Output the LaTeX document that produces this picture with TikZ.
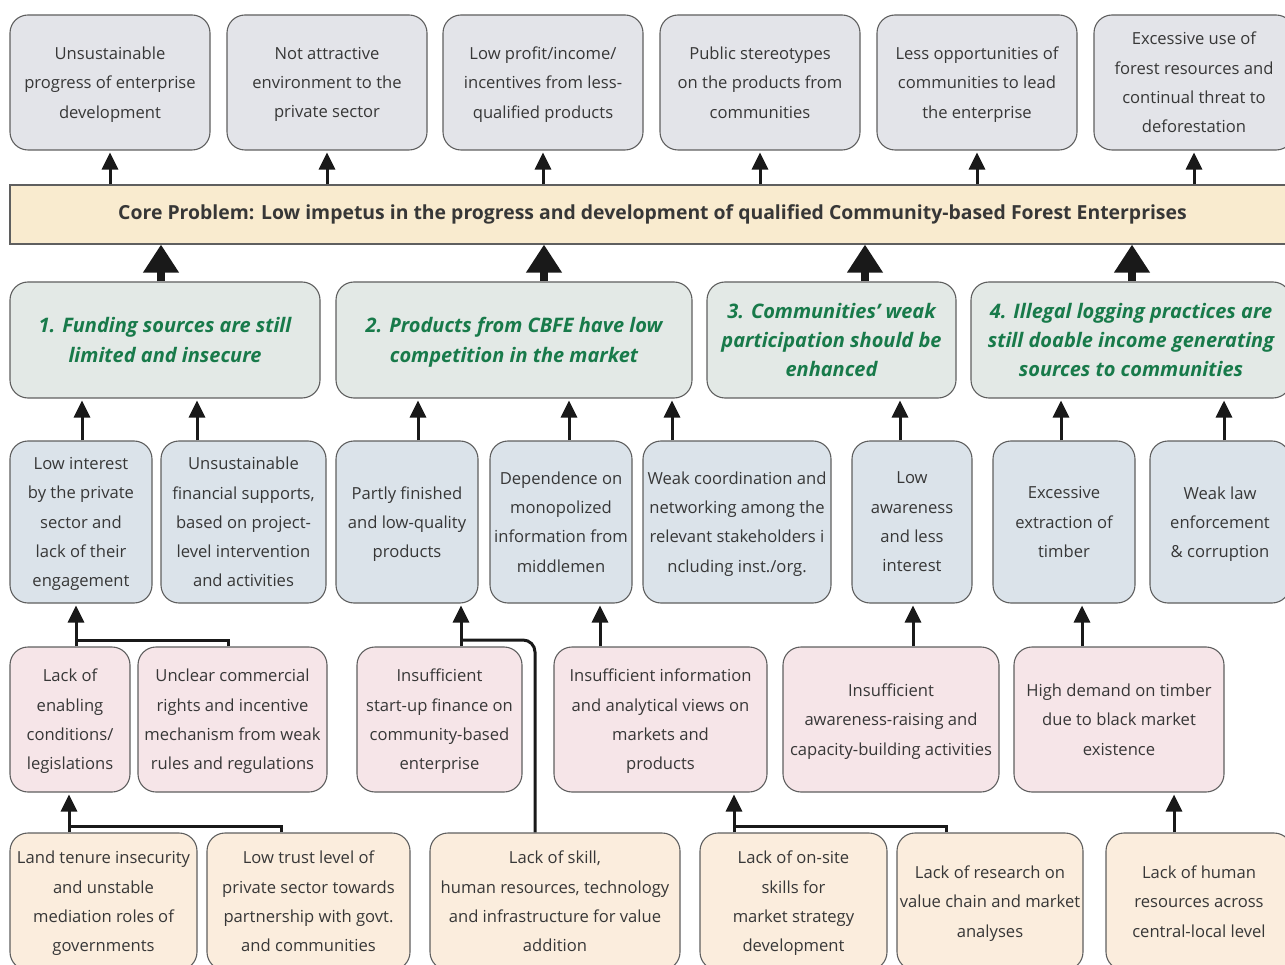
\documentclass[tikz,border=0pt]{standalone}
\usepackage{fontspec}
\setmainfont{Open Sans}
\usetikzlibrary{arrows.meta,calc}
\definecolor{bordc}{RGB}{95,95,95}
\definecolor{txt}{RGB}{55,55,55}
\definecolor{grayf}{RGB}{227,228,233}
\definecolor{coref}{RGB}{249,235,207}
\definecolor{greenf}{RGB}{227,233,230}
\definecolor{greent}{RGB}{24,122,74}
\definecolor{bluef}{RGB}{219,227,234}
\definecolor{pinkf}{RGB}{246,229,232}
\definecolor{beigef}{RGB}{251,237,221}
\definecolor{arrc}{RGB}{25,25,25}
\tikzset{
  box/.style={draw=bordc, line width=1.1pt, rounded corners=18pt, align=center, text=txt,
    font=\fontsize{16.6}{29.3}\selectfont, inner sep=0pt, text depth=0pt},
  bw/.style 2 args={minimum width=#1, minimum height=#2},
  topbox/.style={box, fill=grayf},
  lvtwo/.style={box, fill=greenf, text=greent, font=\fontsize{20}{29.3}\selectfont\bfseries\itshape},
  lvthree/.style={box, fill=bluef},
  lvfour/.style={box, fill=pinkf},
  lvfive/.style={box, fill=beigef},
  arr/.style={line width=3pt, draw=arrc, -{Triangle[width=16pt,length=17pt]}, shorten >=2pt},
  bigarr/.style={line width=7.5pt, draw=arrc, -{Triangle[width=34pt,length=28pt]}},
  link/.style={line width=3pt, draw=arrc},
}
\begin{document}
\begin{tikzpicture}[x=1pt,y=-1pt]
\useasboundingbox (0,0) rectangle (1285,965);
% top row
\node[topbox, bw={200}{135}] (t1) at (110,82.5) {Unsustainable\\progress of enterprise\\development};
\node[topbox, bw={200}{135}] (t2) at (327,82.5) {Not attractive\\environment to the\\private sector};
\node[topbox, bw={200}{135}] (t3) at (543,82.5) {Low profit/income/\\incentives from less-\\qualified products};
\node[topbox, bw={200}{135}] (t4) at (760,82.5) {Public stereotypes\\on the products from\\communities};
\node[topbox, bw={200}{135}] (t5) at (977,82.5) {Less opportunities of\\communities to lead\\the enterprise};
\node[topbox, bw={200}{135}] (t6) at (1194,82.5) {Excessive use of\\forest resources and\\continual threat to\\deforestation};
% core
\node[draw=bordc, line width=1.1pt, fill=coref, text=txt, inner sep=0pt, minimum width=1285, minimum height=59,
  font=\fontsize{19.4}{22}\selectfont\bfseries] (core) at (652.5,214.5)
  {Core Problem: Low impetus in the progress and development of qualified Community-based Forest Enterprises};
% level 2
\node[lvtwo, bw={310}{116}] (L2a) at (165,340) {1. Funding sources are still\\limited and insecure};
\node[lvtwo, bw={356}{116}] (L2b) at (514,340) {2. Products from CBFE have low\\competition in the market};
\node[lvtwo, bw={249}{116}] (L2c) at (831.5,340) {3. Communities' weak\\participation should be\\enhanced};
\node[lvtwo, bw={320}{116}] (L2d) at (1131,340) {4. Illegal logging practices are\\still doable income generating\\sources to communities};
% level 3
\node[lvthree, bw={142}{162}] (a) at (81,522) {Low interest\\by the private\\sector and\\lack of their\\engagement};
\node[lvthree, bw={165}{162}] (b) at (243.5,522) {Unsustainable\\financial supports,\\based on project-\\level intervention\\and activities};
\node[lvthree, bw={142}{162}] (c) at (407,522) {Partly finished\\and low-quality\\products};
\node[lvthree, bw={142}{162}] (d) at (561,522) {Dependence on\\monopolized\\information from\\middlemen};
\node[lvthree, bw={188}{162}] (e) at (737,522) {Weak coordination and\\networking among the\\relevant stakeholders i\\ncluding inst./org.};
\node[lvthree, bw={120}{162}] (f) at (912,522) {Low\\awareness\\and less\\interest};
\node[lvthree, bw={142}{162}] (g) at (1064,522) {Excessive\\extraction of\\timber};
\node[lvthree, bw={140}{162}] (h) at (1220,522) {Weak law\\enforcement\\\& corruption};
% level 4
\node[lvfour, bw={120}{145}] (p1) at (70,719.5) {Lack of\\enabling\\conditions/\\legislations};
\node[lvfour, bw={189}{145}] (p2) at (232.5,719.5) {Unclear commercial\\rights and incentive\\mechanism from weak\\rules and regulations};
\node[lvfour, bw={165}{145}] (p3) at (439.5,719.5) {Insufficient\\start-up finance on\\community-based\\enterprise};
\node[lvfour, bw={213}{145}] (p4) at (660.5,719.5) {Insufficient information\\and analytical views on\\markets and\\products};
\node[lvfour, bw={216}{145}] (p5) at (891,719.5) {Insufficient\\awareness-raising and\\capacity-building activities};
\node[lvfour, bw={210}{145}] (p6) at (1119,719.5) {High demand on timber\\due to black market\\existence};
% level 5
\node[lvfive, bw={187}{137}] (q1) at (103.5,901.5) {Land tenure insecurity\\and unstable\\mediation roles of\\governments};
\node[lvfive, bw={203}{137}] (q2) at (308.5,901.5) {Low trust level of\\private sector towards\\partnership with govt.\\and communities};
\node[lvfive, bw={250}{137}] (q3) at (555,901.5) {Lack of skill,\\human resources, technology\\and infrastructure for value\\addition};
\node[lvfive, bw={187}{137}] (q4) at (793.5,901.5) {Lack of on-site\\skills for\\market strategy\\development};
\node[lvfive, bw={186}{137}] (q5) at (990,901.5) {Lack of research on\\value chain and market\\analyses};
\node[lvfive, bw={186}{137}] (q6) at (1199,901.5) {Lack of human\\resources across\\central-local level};
% core -> top row
\foreach \n in {t1,t2,t3,t4,t5,t6}
  \draw[arr] (core.north -| \n.south) -- (\n.south);
% level 2 -> core
\foreach \n/\x in {L2a/161,L2b/544,L2c/865,L2d/1132}
  \draw[bigarr] (\n.north -| \x,0) -- (core.south -| \x,0);
% level 3 -> level 2
\foreach \n/\m/\x in {a/L2a/82,b/L2a/197,c/L2b/418,d/L2b/569,e/L2b/672,f/L2c/900,g/L2d/1061,h/L2d/1224}
  \draw[arr] (\n.north -| \x,0) -- (\m.south -| \x,0);
% level 4 -> level 3
\coordinate (j1) at (76,640);
\draw[link] (p2.north -| 228,0) |- (j1);
\draw[arr] (p1.north -| j1) -- (a.south -| j1);
\coordinate (j2) at (461,640);
\draw[link, rounded corners=12pt] (q3.north -| 535,0) |- (j2);
\draw[arr] (p3.north -| j2) -- (c.south -| j2);
\draw[arr] (p4.north -| 600,0) -- (d.south -| 600,0);
\draw[arr] (p5.north -| 913,0) -- (f.south -| 913,0);
\draw[arr] (p6.north -| 1082,0) -- (g.south -| 1082,0);
% level 5 -> level 4
\coordinate (j3) at (69,826);
\draw[link] (q2.north -| 281,0) |- (j3);
\draw[arr] (q1.north -| j3) -- (p1.south -| j3);
\coordinate (j4) at (734,826);
\draw[link] (q5.north -| 946,0) |- (j4);
\draw[arr] (q4.north -| j4) -- (p4.south -| j4);
\draw[arr] (q6.north -| 1174,0) -- (p6.south -| 1174,0);
\end{tikzpicture}
\end{document}
